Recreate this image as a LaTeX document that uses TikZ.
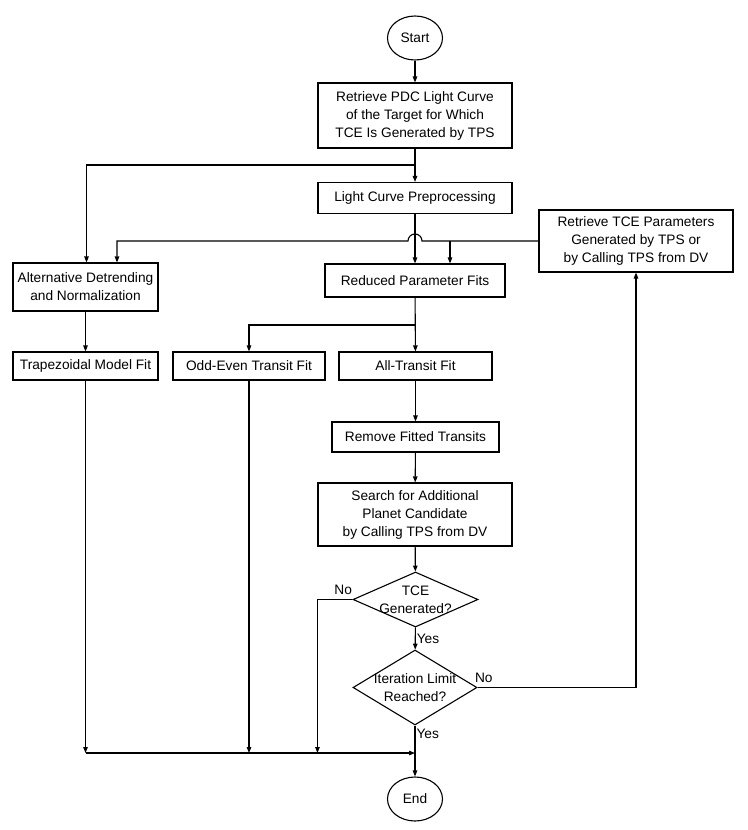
\documentclass[tikz,border=0pt]{standalone}
\usepackage{fontspec}
\setmainfont{Liberation Sans}
\usetikzlibrary{shapes.geometric,arrows.meta}
\begin{document}
\begin{tikzpicture}[x=1pt,y=-1pt,line width=1.1pt,
            font=\fontsize{13.7}{18}\selectfont,
            every node/.style={align=center,inner sep=0pt},
            procbox/.style 2 args={draw,minimum width=#1,minimum height=#2},
            termnode/.style={draw,ellipse,minimum width=55,minimum height=44},
            decnode/.style 2 args={draw,diamond,minimum width=#1,minimum height=#2},
            arr/.style={-{Triangle[length=6pt,width=4.5pt]}}]
            \useasboundingbox (0,0) rectangle (747,830);
            % nodes
            \node[termnode] (start) at (415,38) {Start};
            \node[procbox={194}{65}] (pdc) at (415,115.5) {Retrieve PDC Light Curve\\of the Target for Which\\TCE Is Generated by TPS};
            \node[procbox={194}{31}] (prep) at (415,198) {Light Curve Preprocessing};
            \node[procbox={194}{62}] (tcepar) at (636,241) {Retrieve TCE Parameters\\Generated by TPS or\\by Calling TPS from DV};
            \node[procbox={145}{48}] (altdet) at (85.5,287) {Alternative Detrending\\and Normalization};
            \node[procbox={180}{33}] (redfit) at (415,280.5) {Reduced Parameter Fits};
            \node[procbox={145}{28}] (trap) at (85.5,366) {Trapezoidal Model Fit};
            \node[procbox={152}{28}] (oddeven) at (249,366) {Odd-Even Transit Fit};
            \node[procbox={153}{28}] (alltr) at (415.5,366) {All-Transit Fit};
            \node[procbox={167}{30}] (remove) at (415.5,437) {Remove Fitted Transits};
            \node[procbox={194}{63}] (search) at (415,514.5) {Search for Additional\\Planet Candidate\\by Calling TPS from DV};
            \node[decnode={125}{55}] (tcegen) at (415.5,599.5) {};
            \node at (tcegen) {TCE\\Generated?};
            \node[decnode={124}{75}] (iterlim) at (415,687.5) {};
            \node at (iterlim) {Iteration Limit\\Reached?};
            \node[termnode] (end) at (415,799) {End};
            \coordinate (split1) at (415,165);
            \coordinate (split2) at (450,241);
            \coordinate (split3) at (415,325);
            \coordinate (bus) at (415,753);
            % connectors
            \draw[arr] (start) -- (pdc);
            \draw[arr] (pdc) -- (prep);
            \draw[arr] (split1) -| ([xshift=1]altdet.north);
            \draw[arr] (prep) -- (redfit);
            \draw[arr] (tcepar.west) -- (422,241) arc[start angle=0,end angle=180,radius=7pt] -| ([xshift=31.5]altdet.north);
            \draw[arr] (split2) -- (split2 |- redfit.north);
            \draw[arr] (altdet) -- (trap);
            \draw[arr] (redfit) -- (alltr);
            \draw[arr] (split3) -| (oddeven.north);
            \draw[arr] (alltr) -- (remove);
            \draw[arr] (remove) -- (search);
            \draw[arr] (search) -- (tcegen);
            \draw[arr] (tcegen) -- node[anchor=west,xshift=1] {Yes} (iterlim);
            \draw[arr] (iterlim) -- node[pos=0.05,anchor=north west,xshift=1] {Yes} (end);
            \node[anchor=south west,xshift=-3,yshift=4] at (iterlim.east) {No};
            \draw[arr] (iterlim.east) -| (tcepar.south);
            \node[anchor=south east,yshift=4] at (tcegen.west) {No};
            \draw[arr] (tcegen.west) -- ++(-35,0) coordinate (nocorner) -- (nocorner |- bus);
            \draw[arr] (trap) -- (trap |- bus);
            \draw[arr] (oddeven) -- (oddeven |- bus);
            \draw[arr] (trap |- bus) -- (bus);
        \end{tikzpicture}
\end{document}
